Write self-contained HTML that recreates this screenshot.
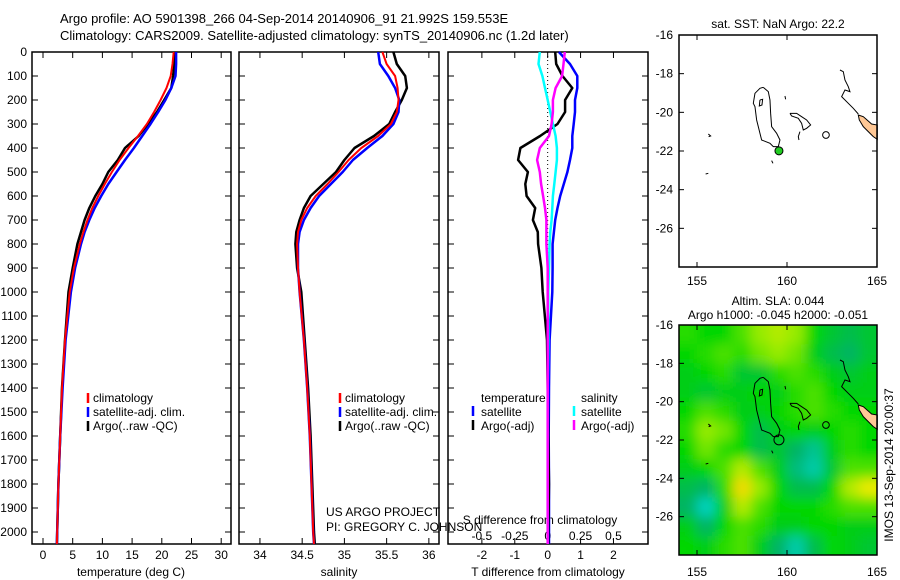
<!DOCTYPE html>
<html><head><meta charset="utf-8">
<style>
body{margin:0;background:#fff;}
svg{display:block;font-family:"Liberation Sans",sans-serif;}
text{font-size:12px;fill:#000;}
</style></head>
<body>
<svg id="fig" width="900" height="580" viewBox="0 0 900 580">
<defs>
<clipPath id="map2clip"><rect x="679" y="325" width="198" height="230"/></clipPath>
<filter id="blur" x="-10%" y="-10%" width="120%" height="120%"><feGaussianBlur stdDeviation="6"/></filter>
</defs>
<text x="60" y="23" style="font-size:13px">Argo profile: AO 5901398_266 04-Sep-2014 20140906_91 21.992S 159.553E</text>
<text x="60" y="40" style="font-size:13px">Climatology: CARS2009. Satellite-adjusted climatology: synTS_20140906.nc (1.2d later)</text>
<g id="g"></g>
</svg>
<script>
// ---- data ----
const depths = [0,50,100,150,200,250,300,350,400,450,500,550,600,650,700,750,800,900,1000,1200,1400,1600,1800,2000,2050];
const tempClim = [22.0,21.8,21.5,20.8,19.8,18.7,17.5,16.0,14.4,12.9,11.6,10.4,9.3,8.3,7.5,6.8,6.2,5.2,4.5,3.7,3.2,2.9,2.6,2.4,2.35];
const tempSat  = [22.4,22.4,22.3,21.6,20.6,19.4,18.1,16.7,15.3,13.8,12.4,11.0,9.8,8.7,7.8,7.0,6.4,5.4,4.7,3.8,3.3,2.9,2.6,2.4,2.35];
const tempArgo = [22.2,22.1,21.9,21.6,20.4,19.2,17.7,16.1,13.8,12.6,11.0,10.0,8.8,7.8,7.0,6.4,5.8,5.0,4.3,3.7,3.2,2.9,2.6,2.4,2.35];
const salClim = [35.45,35.5,35.6,35.63,35.64,35.62,35.55,35.4,35.2,35.05,34.93,34.8,34.66,34.56,34.49,34.45,34.44,34.45,34.47,34.52,34.56,34.59,34.61,34.63,34.64];
const salSat  = [35.40,35.42,35.52,35.6,35.65,35.64,35.58,35.45,35.27,35.1,34.98,34.84,34.7,34.6,34.52,34.47,34.45,34.45,34.47,34.52,34.56,34.59,34.61,34.63,34.64];
const salArgo = [35.58,35.62,35.72,35.74,35.68,35.6,35.53,35.35,35.12,35.0,34.9,34.75,34.6,34.52,34.47,34.43,34.42,34.44,34.49,34.53,34.57,34.6,34.62,34.64,34.65];
const tDiffSat  = [0.34,0.68,0.9,0.9,0.83,0.83,0.79,0.75,0.75,0.68,0.6,0.49,0.38,0.3,0.23,0.19,0.15,0.15,0.14,0.06,0.04,0.03,0.04,0.04,0.04];
const tDiffArgo = [0.23,0.26,0.45,0.75,0.53,0.53,0.3,-0.23,-0.83,-0.9,-0.6,-0.68,-0.64,-0.38,-0.45,-0.3,-0.29,-0.19,-0.15,-0.02,0,0.02,0.04,0.02,0.02];
const sDiffArgo = [0.13,0.12,0.11,0.06,0.04,0.04,0.03,0.01,-0.06,-0.08,-0.06,-0.05,-0.035,-0.02,-0.01,-0.01,-0.01,0,0,0,0,0,0,0,0];
const sDiffSat  = [-0.06,-0.07,-0.04,-0.02,0,0.02,0.04,0.06,0.07,0.07,0.06,0.05,0.04,0.035,0.03,0.02,0.015,0.01,0.005,0.005,0,0,0,0,0];
const depthTicks = [0,100,200,300,400,500,600,700,800,900,1000,1100,1200,1300,1400,1500,1600,1700,1800,1900,2000];
const tempTicks = [0,5,10,15,20,25,30];
const salTicks = [34,34.5,35,35.5,36];
const tDiffTicks = [-2,-1,0,1,2];
const sDiffTicks = [-0.5,-0.25,0,0.25,0.5];
const sDiffLabels = ['-0.5','-0.25','0','0.25','0.5'];
const latTicks = [-16,-18,-20,-22,-24,-26];
const lonTicks = [155,160,165];
const argoLon = 159.553, argoLat = -21.992;
const slaLons = [154.5,155.5,156.5,157.5,158.5,159.5,160.5,161.5,162.5,163.5,164.5];
const slaLats = [-16.5,-17.5,-18.5,-19.5,-20.5,-21.5,-22.5,-23.5,-24.5,-25.5,-26.5,-27.5];
const slaGrid = [
[0.55,0.5,0.5,0.6,0.7,0.75,0.7,0.5,0.4,0.35,0.4],
[0.5,0.55,0.6,0.55,0.65,0.7,0.65,0.45,0.35,0.3,0.4],
[0.45,0.5,0.55,0.4,0.4,0.55,0.6,0.55,0.45,0.4,0.45],
[0.45,0.4,0.45,0.45,0.5,0.45,0.55,0.6,0.5,0.45,0.45],
[0.5,0.6,0.55,0.45,0.45,0.5,0.55,0.6,0.55,0.5,0.5],
[0.55,0.7,0.65,0.5,0.35,0.45,0.5,0.45,0.5,0.55,0.5],
[0.5,0.65,0.55,0.5,0.35,0.4,0.3,0.2,0.45,0.55,0.5],
[0.45,0.5,0.6,0.75,0.6,0.45,0.25,0.15,0.4,0.6,0.6],
[0.35,0.3,0.55,0.9,0.7,0.5,0.35,0.35,0.5,0.75,0.85],
[0.3,0.1,0.45,0.75,0.6,0.5,0.5,0.5,0.55,0.6,0.6],
[0.45,0.3,0.5,0.6,0.55,0.45,0.45,0.5,0.5,0.45,0.45],
[0.5,0.45,0.55,0.6,0.45,0.3,0.15,0.35,0.5,0.45,0.4]];

// ---- helpers ----
const NS='http://www.w3.org/2000/svg';
const G=document.getElementById('g');
function mk(tag,attrs,parent){const e=document.createElementNS(NS,tag);for(const k in attrs)e.setAttribute(k,attrs[k]);(parent||G).appendChild(e);return e;}
const Y0=52, Y1=544, DMAX=2050;
const yD = d => Y0 + d/DMAX*(Y1-Y0);
function linX(x0,x1,v0,v1){return v=>x0+(v-v0)/(v1-v0)*(x1-x0);}
const xT = linX(32,231,-1.85,31.65);
const xS = linX(239,439,33.752,36.12);
const xTD = linX(448,648,-3.03,3.05);
const xSD = linX(448,648,-0.7575,0.7625);
const lonX = linX(679,877,154,165);
const latY = linX(35,267,-16,-28);

function panel(x0,x1,name){
  const r=mk('rect',{x:x0,y:Y0,width:x1-x0,height:Y1-Y0,fill:'none',stroke:'#000','stroke-width':1.5});
  
  
  depthTicks.forEach(d=>{
    mk('line',{x1:x0,x2:x0+6,y1:yD(d),y2:yD(d),stroke:'#000'});
    mk('line',{x1:x1-6,x2:x1,y1:yD(d),y2:yD(d),stroke:'#000'});
  });
}
function xticks(vals,labels,fx,y,name){
  vals.forEach((v,i)=>{
    mk('line',{x1:fx(v),x2:fx(v),y1:Y0,y2:Y0+6,stroke:'#000'});
    mk('line',{x1:fx(v),x2:fx(v),y1:Y1-6,y2:Y1,stroke:'#000'});
    const t=mk('text',{x:fx(v),y:y,'text-anchor':'middle'});t.textContent=labels[i];
    
    
  });
}
function line(vals,fx,color,w,name){
  const p=mk('polyline',{points:vals.map((v,i)=>fx(v).toFixed(1)+','+yD(depths[i]).toFixed(1)).join(' '),fill:'none',stroke:color,'stroke-width':w,'stroke-linejoin':'round'});
  
  
}
function txt(x,y,s,name,anchor,extra){
  const t=mk('text',Object.assign({x:x,y:y,'text-anchor':anchor||'start'},extra||{}));t.textContent=s;
  
  
  return t;
}
function legMark(x,y,color){mk('line',{x1:x,x2:x,y1:y-10,y2:y,stroke:color,'stroke-width':2.5});}

// ---- panel 1 temperature ----
panel(32,231,'temperature-panel');
depthTicks.forEach(d=>{txt(27,yD(d)+4,String(d),'depth-tick-label','end');});
xticks(tempTicks,tempTicks.map(String),xT,559,'temperature-tick-label');
txt(131,576,'temperature (deg C)','temperature-axis-title','middle');
line(tempArgo,xT,'#000',2.5,'temp-argo-line');
line(tempSat,xT,'#0000ff',2.5,'temp-satellite-line');
line(tempClim,xT,'#ff0000',2,'temp-climatology-line');
legMark(88,403,'#f00');txt(93,402,'climatology','legend-climatology');
legMark(88,417,'#00f');txt(93,416,'satellite-adj. clim.','legend-satellite-adj');
legMark(88,431,'#000');txt(93,430,'Argo(..raw -QC)','legend-argo-raw');

// ---- panel 2 salinity ----
panel(239,439,'salinity-panel');
xticks(salTicks,['34','34.5','35','35.5','36'],xS,559,'salinity-tick-label');
txt(339,576,'salinity','salinity-axis-title','middle');
line(salArgo,xS,'#000',2.5,'sal-argo-line');
line(salSat,xS,'#0000ff',2.5,'sal-satellite-line');
line(salClim,xS,'#ff0000',2,'sal-climatology-line');
legMark(340,403,'#f00');txt(345,402,'climatology','legend-sal-climatology');
legMark(340,417,'#00f');txt(345,416,'satellite-adj. clim.','legend-sal-satellite-adj');
legMark(340,431,'#000');txt(345,430,'Argo(..raw -QC)','legend-sal-argo-raw');
txt(326,516,'US ARGO PROJECT','project-label');
txt(326,531,'PI: GREGORY C. JOHNSON','pi-label');

// ---- panel 3 differences ----
panel(448,648,'difference-panel');
mk('line',{x1:xTD(0),x2:xTD(0),y1:Y0,y2:400,stroke:'#000','stroke-dasharray':'1,3'});
xticks(tDiffTicks,['-2','-1','0','1','2'],xTD,559,'t-diff-tick-label');
sDiffTicks.forEach((v,i)=>{txt(xSD(v),540,sDiffLabels[i],'s-diff-tick-label','middle');});
txt(540,524,'S difference from climatology','s-diff-axis-title','middle');
txt(548,576,'T difference from climatology','t-diff-axis-title','middle');
line(tDiffSat,xTD,'#0000ff',2.5,'tdiff-satellite-line');
line(tDiffArgo,xTD,'#000',2.5,'tdiff-argo-line');
line(sDiffSat,xSD,'#00ffff',2.5,'sdiff-satellite-line');
line(sDiffArgo,xSD,'#ff00ff',2.5,'sdiff-argo-line');
txt(481,402,'temperature','legend-temperature-heading');
legMark(473,416,'#00f');txt(481,416,'satellite','legend-t-satellite');
legMark(473,430,'#000');txt(481,430,'Argo(-adj)','legend-t-argo');
txt(581,402,'salinity','legend-salinity-heading');
legMark(574,416,'#0ff');txt(581,416,'satellite','legend-s-satellite');
legMark(574,430,'#f0f');txt(581,430,'Argo(-adj)','legend-s-argo');

// ---- maps ----
const coastPolys = [
 [[970,262],[985,275],[990,300],[992,340],[995,380],[1010,400],[1020,420],[1015,440],[1000,440],[990,430],[965,420],[960,400],[950,360],[945,320],[940,310],[945,280],[960,265],[970,262]],
 [[960,300],[968,298],[966,315],[958,318],[960,300]],
 [[1050,340],[1070,340],[1085,350],[1100,360],[1112,375],[1100,385],[1090,390],[1085,370],[1075,355],[1055,348],[1050,340]],
 [[1080,395],[1075,410],[1077,420]],
 [[1200,210],[1210,215],[1215,240],[1225,260],[1230,275],[1215,270],[1205,290],[1225,310],[1240,325],[1255,342]],
 [[1035,288],[1037,298]],[[805,402],[812,408],[806,410]],[[797,522],[805,520]],[[995,482],[999,490]]
];
const peach = [[1255,345],[1270,350],[1295,372],[1312,375],[1312,418],[1300,410],[1285,395],[1270,380],[1258,360]];
function drawCoast(oy,name){
  const g=mk('g',{transform:'translate(440,'+oy+') scale(0.3333)'});
  
  
  mk('polygon',{points:peach.map(p=>p.join(',')).join(' '),fill:'#ffc896',stroke:'#000','stroke-width':3},g);
  coastPolys.forEach(pl=>mk('polyline',{points:pl.map(p=>p.join(',')).join(' '),fill:'none',stroke:'#000','stroke-width':3},g));
  mk('ellipse',{cx:1158,cy:405,rx:10,ry:10,fill:'none',stroke:'#000','stroke-width':3},g);
}
function mapAxes(dy,name){
  const top=35+dy, bot=dy?555:267, h=bot-top;
  const r=mk('rect',{x:679,y:top,width:198,height:h,fill:'none',stroke:'#000','stroke-width':1.5});
  
  
  latTicks.forEach(l=>{
    const y=top+(-16-l)/12*h;
    mk('line',{x1:679,x2:684,y1:y,y2:y,stroke:'#000'});
    mk('line',{x1:872,x2:877,y1:y,y2:y,stroke:'#000'});
    txt(673,y+4,String(l),'latitude-tick-label','end');
  });
  lonTicks.forEach(l=>{
    const x=lonX(l);
    mk('line',{x1:x,x2:x,y1:top,y2:top+5,stroke:'#000'});
    mk('line',{x1:x,x2:x,y1:bot-5,y2:bot,stroke:'#000'});
    txt(x,dy?576:285,String(l),'longitude-tick-label','middle');
  });
}
// map 1
txt(778,28,'sat. SST: NaN Argo: 22.2','sst-map-title','middle');
drawCoast(0,'sst-map-coastline');
const c1=mk('circle',{cx:lonX(argoLon),cy:latY(argoLat),r:4,fill:'#22cc22',stroke:'#000'});


mapAxes(0,'sst-map-frame');

// map 2 heatmap
function slaColor(v){
  const stops=[[0,[0,225,235]],[0.3,[0,180,100]],[0.5,[0,215,0]],[0.7,[150,235,0]],[0.85,[235,235,0]],[1,[255,190,0]]];
  for(let i=1;i<stops.length;i++){if(v<=stops[i][0]){const a=stops[i-1],b=stops[i];const t=(v-a[0])/(b[0]-a[0]);return 'rgb('+a[1].map((c,k)=>Math.round(c+t*(b[1][k]-c))).join(',')+')';}}
  return 'rgb(255,190,0)';
}
const lat2 = l => 325 + (-16 - l)/12*230;
const hg=mk('g',{'clip-path':'url(#map2clip)'});
const hb=mk('g',{filter:'url(#blur)'},hg);
slaGrid.forEach((row,i)=>row.forEach((v,j)=>{
  const x0=lonX(slaLons[j]-0.5), y0=lat2(slaLats[i]+0.5);
  const c=mk('rect',{x:x0-(j==0?20:0),y:y0-(i==0?20:0),width:lonX(slaLons[j]+0.5)-x0+1+(j==0?20:0)+(j==10?20:0),height:lat2(slaLats[i]-0.5)-y0+1+(i==0?20:0)+(i==11?20:0),fill:slaColor(v)},hb);
  
  
}));
txt(778,305,'Altim. SLA: 0.044','sla-map-title','middle');
txt(778,319,'Argo h1000: -0.045 h2000: -0.051','sla-map-subtitle','middle');
drawCoast(290,'sla-map-coastline');
const c2=mk('circle',{cx:lonX(argoLon),cy:lat2(argoLat),r:5,fill:'none',stroke:'#000'});


mapAxes(290,'sla-map-frame');
txt(0,0,'IMOS 13-Sep-2014 20:00:37','imos-timestamp','middle',{transform:'translate(893,465) rotate(-90)'});
</script>
</body></html>
